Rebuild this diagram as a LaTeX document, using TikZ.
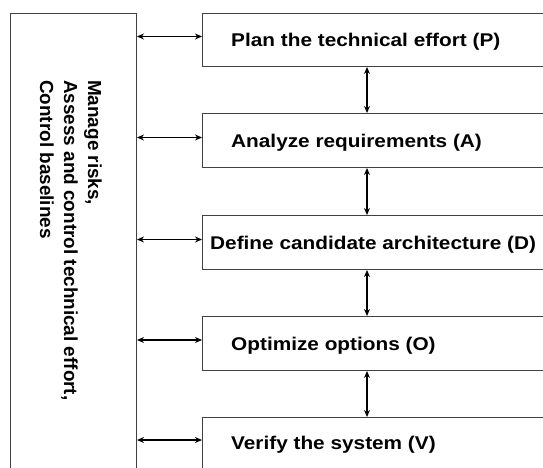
\documentclass[tikz,border=0pt]{standalone}
\usepackage{fontspec}
\setmainfont{Liberation Sans}
\usetikzlibrary{arrows.meta}
\begin{document}
\begin{tikzpicture}[x=1pt,y=1pt,
  box/.style={draw=black!75, line width=1pt, fill=white, inner sep=0pt, anchor=north west},
  rtext/.style={font=\bfseries\fontsize{18.4}{22}\selectfont, inner sep=0pt, anchor=base west},
  ltext/.style={font=\bfseries\fontsize{18.9}{24}\selectfont, inner sep=0pt, align=left, rotate=-90, anchor=west},
  link/.style={line width=1.7pt, {Stealth[length=7pt,width=6pt]}-{Stealth[length=7pt,width=6pt]}}]
\clip (0,0) rectangle (543,467);
\fill[white] (0,0) rectangle (543,467);
% left box
\node[box, minimum width=126pt, minimum height=467pt] (L) at (10,454) {};
\node[ltext] (Lt) at (71,387) {Manage risks,\\Assess and control technical effort,\\Control baselines};
% right boxes
\node[box, minimum width=360pt, minimum height=53pt] (P) at (202,454) {};
\node[box, minimum width=360pt, minimum height=54pt] (A) at (202,354) {};
\node[box, minimum width=360pt, minimum height=54pt] (D) at (202,252) {};
\node[box, minimum width=360pt, minimum height=54pt] (O) at (202,151) {};
\node[box, minimum width=360pt, minimum height=80pt] (V) at (202,50) {};
\coordinate (Vc) at ([yshift=-26pt]V.north west);
% texts
\node[rtext] (Pt) at ([xshift=29pt,yshift=-6.5pt]P.west) {\scalebox{1.13}[1]{Plan the technical effort (P)}};
\node[rtext] (At) at ([xshift=29pt,yshift=-6.5pt]A.west) {\scalebox{1.13}[1]{Analyze requirements (A)}};
\node[rtext] (Dt) at ([xshift=8pt,yshift=-6.5pt]D.west) {\scalebox{1.13}[1]{Define candidate architecture (D)}};
\node[rtext] (Ot) at ([xshift=29pt,yshift=-6.5pt]O.west) {\scalebox{1.13}[1]{Optimize options (O)}};
\node[rtext] (Vt) at ([xshift=29pt,yshift=-6.5pt]Vc) {\scalebox{1.13}[1]{Verify the system (V)}};
% horizontal links
\draw[link] ([yshift=3.5pt]P.west -| L.east) -- ([yshift=3.5pt]P.west);
\draw[link] ([yshift=3pt]A.west -| L.east) -- ([yshift=3pt]A.west);
\draw[link] ([yshift=3pt]D.west -| L.east) -- ([yshift=3pt]D.west);
\draw[link] ([yshift=3.5pt]O.west -| L.east) -- ([yshift=3.5pt]O.west);
\draw[link] ([yshift=3pt]Vc -| L.east) -- ([yshift=3pt]Vc);
% vertical links
\coordinate (vx) at (367,0);
\draw[link] (P.south -| vx) -- (A.north -| vx);
\draw[link] (A.south -| vx) -- (D.north -| vx);
\draw[link] (D.south -| vx) -- (O.north -| vx);
\draw[link] (O.south -| vx) -- (V.north -| vx);
\end{tikzpicture}
\end{document}
